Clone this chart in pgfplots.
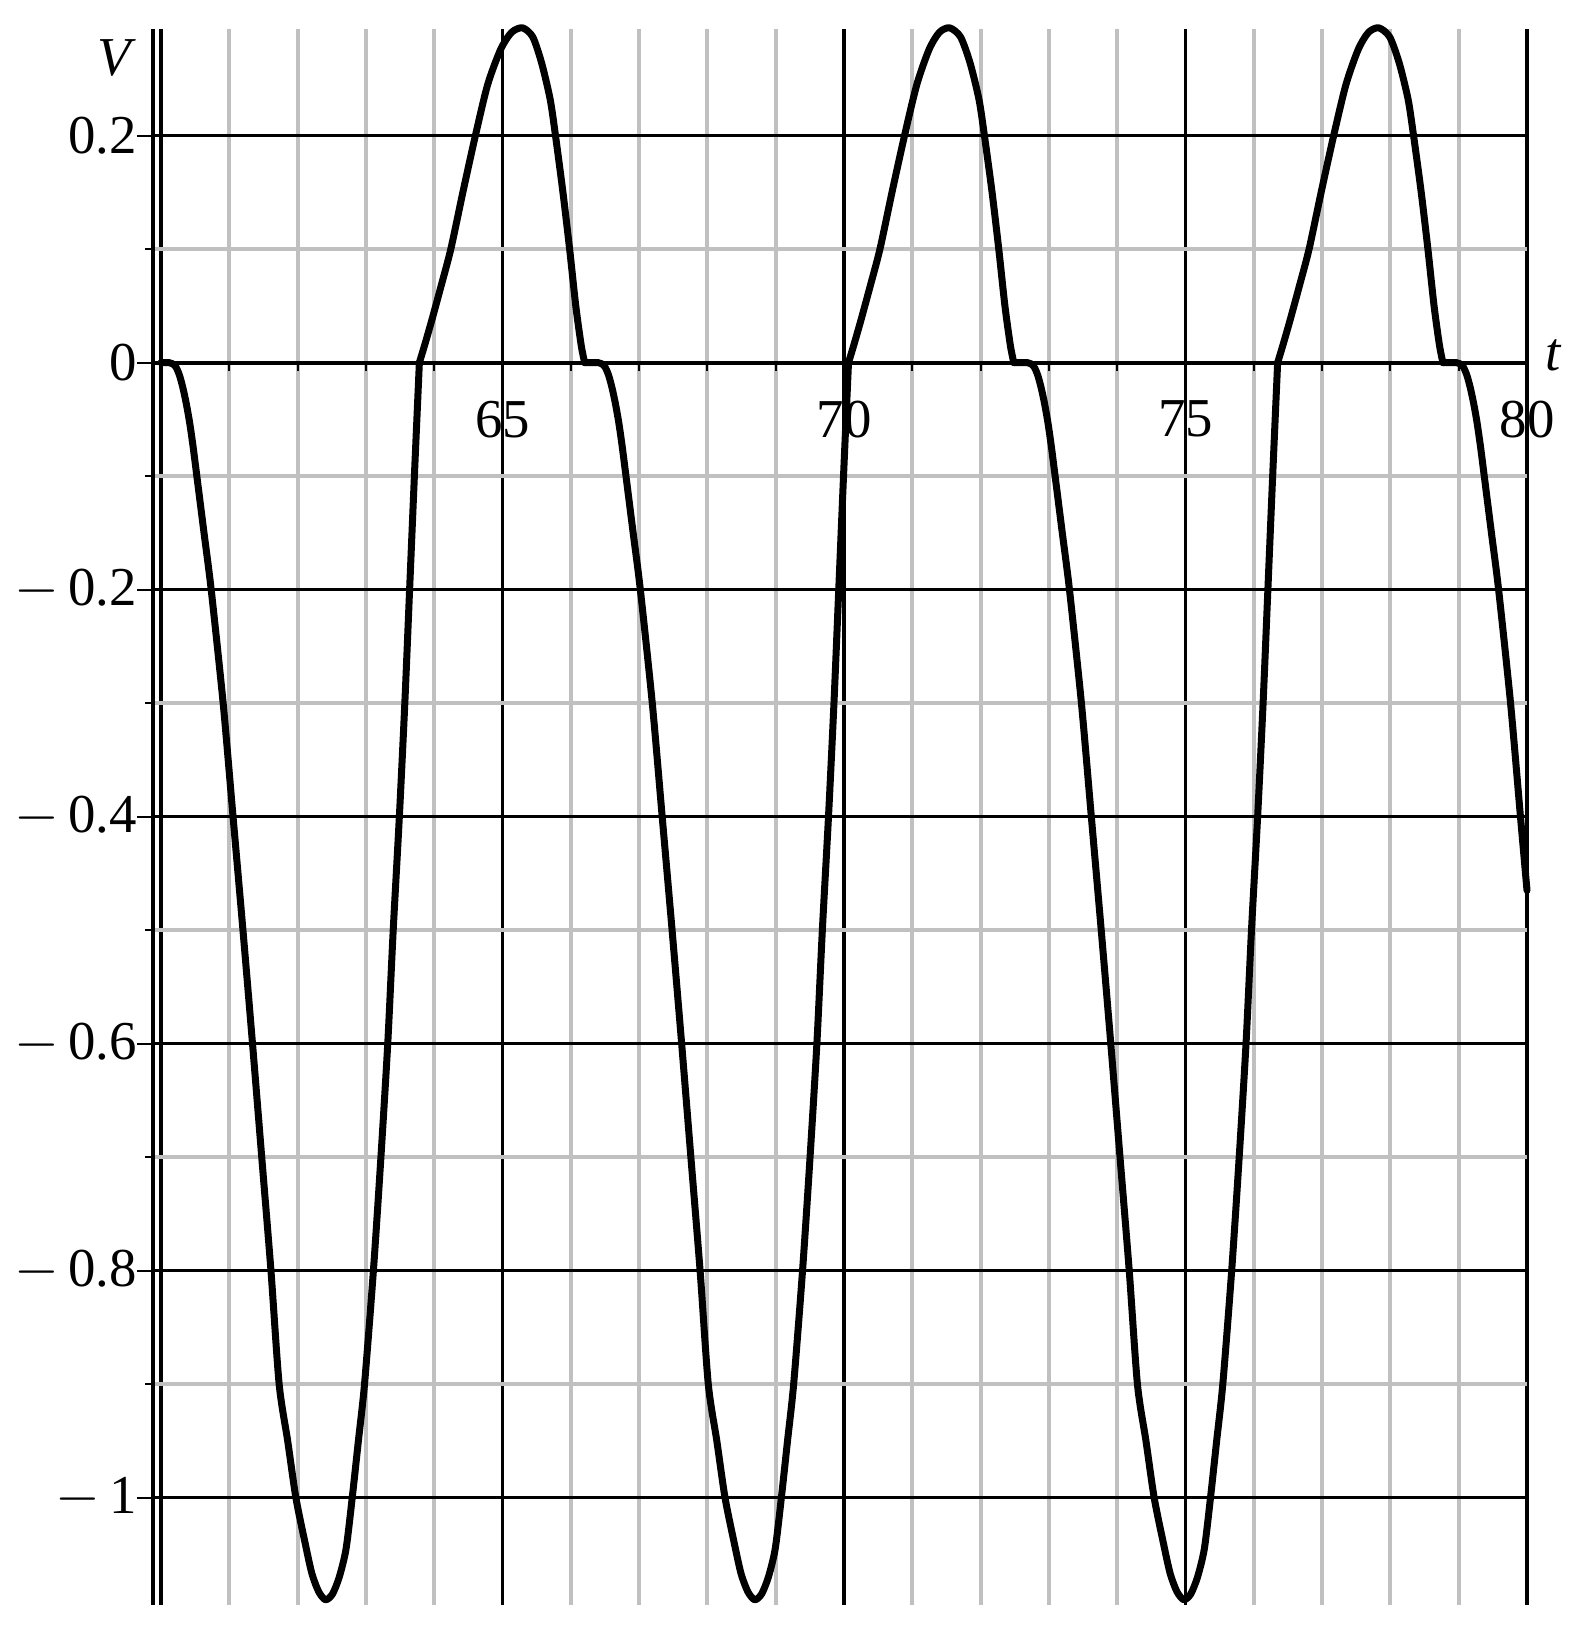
\documentclass[border=0pt]{standalone}
\usepackage{fontspec}
\setmainfont{Liberation Serif}
\usepackage{pgfplots}
\pgfplotsset{compat=1.18}
\usetikzlibrary{calc}
\definecolor{gridgray}{HTML}{C0C0C0}
\newcommand{\lbl}{\fontsize{13.7}{16}\selectfont}
\newcommand{\mn}{$-$\,}
\tikzset{curve/.style={black, line width=1.75pt, line join=round, line cap=round, smooth, tension=0.45, mark=none}}

\begin{document}
\begin{tikzpicture}
\begin{axis}[
    scale only axis,
    width=343.5pt, height=394pt,
    xmin=59.883, xmax=80,
    ymin=-1.0946, ymax=0.294,
    axis x line*=middle,
    axis y line*=left,
    axis line style={line width=1pt},
    clip=false,
    xtick={60,65,70,75,80},
    xticklabels={,65,70,75,80},
    minor xtick={61,62,63,64,66,67,68,69,71,72,73,74,76,77,78,79},
    ytick={-1,-0.8,-0.6,-0.4,-0.2,0,0.2},
    yticklabels={\mn1,\mn0.8,\mn0.6,\mn0.4,\mn0.2,0,0.2},
    minor ytick={-0.9,-0.7,-0.5,-0.3,-0.1,0.1},
    tick align=outside,
    major tick length=4pt,
    minor tick length=2pt,
    tick style={black, line width=0.5pt},
    grid=both,
    major grid style={black, line width=0.9pt},
    minor grid style={gridgray, line width=1pt},
    ticklabel style={font=\lbl},
    xticklabel style={anchor=north, yshift=-2pt},
    yticklabel style={anchor=east, xshift=3.5pt},
]
% descent, minimum and rise of each period (smooth pieces meet at the kinks)
\addplot[curve] coordinates {
(60,0) (60.06,0) (60.12,0)
(60.17,-0.001) (60.22,-0.004) (60.27,-0.011) (60.32,-0.022) (60.37,-0.036)
(60.42,-0.053) (60.47,-0.074) (60.525,-0.1) (60.63,-0.15) (60.735,-0.2)
(60.91,-0.3) (61.055,-0.4) (61.20,-0.5) (61.34,-0.6) (61.475,-0.7)
(61.61,-0.8) (61.73,-0.9) (61.855,-0.95) (61.975,-1.0) (62.11,-1.04)
(62.21,-1.067) (62.31,-1.083) (62.41,-1.09)
(62.51,-1.085) (62.61,-1.07) (62.71,-1.045) (62.80,-1.0) (62.89,-0.95)
(62.98,-0.9) (63.11,-0.8) (63.22,-0.7) (63.32,-0.6) (63.40,-0.5)
(63.49,-0.4) (63.57,-0.3) (63.64,-0.2) (63.71,-0.1) (63.783,0)
};
\addplot[curve] coordinates {
(63.783,0)
(63.863,0.016) (63.963,0.037) (64.103,0.068) (64.243,0.10) (64.423,0.151)
(64.603,0.20) (64.783,0.245) (64.973,0.276) (65.133,0.291) (65.293,0.295)
(65.443,0.287) (65.573,0.264) (65.698,0.232) (65.776,0.2) (65.883,0.151)
(65.983,0.1) (66.073,0.05) (66.153,0.015) (66.203,0)
};
\addplot[curve] coordinates {
(66.203,0) (66.303,0) (66.403,0)
(66.453,-0.001) (66.503,-0.004) (66.553,-0.011) (66.603,-0.022) (66.653,-0.036)
(66.703,-0.053) (66.753,-0.074) (66.808,-0.1) (66.913,-0.15) (67.018,-0.2)
(67.193,-0.3) (67.338,-0.4) (67.483,-0.5) (67.623,-0.6) (67.758,-0.7)
(67.893,-0.8) (68.013,-0.9) (68.138,-0.95) (68.258,-1.0) (68.393,-1.04)
(68.493,-1.067) (68.593,-1.083) (68.693,-1.09)
(68.793,-1.085) (68.893,-1.07) (68.993,-1.045) (69.083,-1.0) (69.173,-0.95)
(69.263,-0.9) (69.393,-0.8) (69.503,-0.7) (69.603,-0.6) (69.683,-0.5)
(69.773,-0.4) (69.853,-0.3) (69.923,-0.2) (69.993,-0.1) (70.066,0)
};
\addplot[curve] coordinates {
(70.066,0)
(70.146,0.016) (70.246,0.037) (70.386,0.068) (70.526,0.10) (70.706,0.151)
(70.886,0.20) (71.066,0.245) (71.246,0.276) (71.396,0.291) (71.546,0.295)
(71.706,0.287) (71.846,0.264) (71.976,0.232) (72.056,0.2) (72.166,0.151)
(72.266,0.1) (72.356,0.05) (72.436,0.015) (72.486,0)
};
\addplot[curve] coordinates {
(72.486,0) (72.586,0) (72.686,0)
(72.736,-0.001) (72.786,-0.004) (72.836,-0.011) (72.886,-0.022) (72.936,-0.036)
(72.986,-0.053) (73.036,-0.074) (73.091,-0.1) (73.196,-0.15) (73.301,-0.2)
(73.476,-0.3) (73.621,-0.4) (73.766,-0.5) (73.906,-0.6) (74.041,-0.7)
(74.176,-0.8) (74.296,-0.9) (74.421,-0.95) (74.541,-1.0) (74.676,-1.04)
(74.776,-1.067) (74.876,-1.083) (74.976,-1.09)
(75.076,-1.085) (75.176,-1.07) (75.276,-1.045) (75.366,-1.0) (75.456,-0.95)
(75.546,-0.9) (75.676,-0.8) (75.786,-0.7) (75.886,-0.6) (75.966,-0.5)
(76.056,-0.4) (76.136,-0.3) (76.206,-0.2) (76.276,-0.1) (76.349,0)
};
\addplot[curve] coordinates {
(76.349,0)
(76.429,0.016) (76.529,0.037) (76.669,0.068) (76.809,0.10) (76.989,0.151)
(77.169,0.20) (77.349,0.245) (77.529,0.276) (77.679,0.291) (77.829,0.295)
(77.989,0.287) (78.129,0.264) (78.259,0.232) (78.339,0.2) (78.449,0.151)
(78.549,0.1) (78.639,0.05) (78.719,0.015) (78.769,0)
};
\addplot[curve] coordinates {
(78.769,0) (78.869,0) (78.969,0)
(79.019,-0.001) (79.069,-0.004) (79.119,-0.011) (79.169,-0.022) (79.219,-0.036)
(79.269,-0.053) (79.319,-0.074) (79.374,-0.1) (79.479,-0.15) (79.584,-0.2)
(79.759,-0.3) (79.904,-0.4) (80,-0.465)
};
\node[anchor=north east, inner sep=0pt, font=\lbl\itshape]
    at ([xshift=-5.25pt, yshift=-2.5pt]rel axis cs:0,1) {V};
\node[anchor=base west, inner sep=0pt, font=\lbl\itshape]
    at ([xshift=4.5pt, yshift=-2pt]axis cs:80,0) {t};
\coordinate (BL) at (rel axis cs:0,0);
\coordinate (TR) at (rel axis cs:1,1);
\end{axis}
\pgfresetboundingbox
\path ($(BL)+(-38.25pt,-7.25pt)$) rectangle ($(TR)+(12.5pt,7.25pt)$);
\end{tikzpicture}
\end{document}
